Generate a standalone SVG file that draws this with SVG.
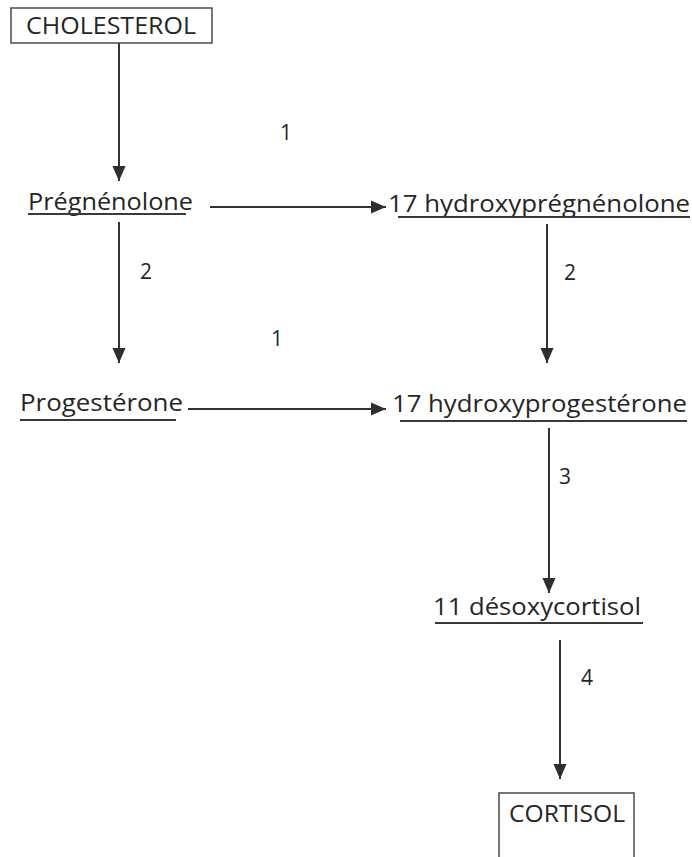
<svg xmlns="http://www.w3.org/2000/svg" width="692" height="857" viewBox="0 0 692 857">
<style>
.t{font-family:"Open Sans","Liberation Sans",sans-serif;font-size:23px;fill:#262626}
.n{font-family:"Open Sans","Liberation Sans",sans-serif;font-size:21px;fill:#262626}
.box{fill:#fff;stroke:#4a4a4a;stroke-width:1.5}
.ul{stroke:#3a3a3a;stroke-width:1.8}
.c{stroke:#333;stroke-width:2;fill:none;marker-end:url(#ah)}
</style>
<defs>
<marker id="ah" markerWidth="15" markerHeight="18" refX="16" refY="7" orient="auto" markerUnits="userSpaceOnUse" viewBox="0 0 16 14">
<path d="M0,0 L16,7 L0,14 Z" fill="#2e2e2e"/>
</marker>
</defs>
<rect width="692" height="857" fill="#fff"/>
<g id="connectors">
<line class="c" x1="119" y1="43" x2="119" y2="181"/>
<line class="c" x1="210" y1="207" x2="386" y2="207"/>
<line class="c" x1="119" y1="222" x2="119" y2="363"/>
<line class="c" x1="547" y1="224" x2="547" y2="363"/>
<line class="c" x1="188" y1="409" x2="386" y2="409"/>
<line class="c" x1="549" y1="428" x2="549" y2="593"/>
<line class="c" x1="560" y1="640" x2="560" y2="779"/>
<text class="n" x="280" y="140">1</text>
<text class="n" x="140" y="279">2</text>
<text class="n" x="564" y="280">2</text>
<text class="n" x="271" y="346">1</text>
<text class="n" x="559" y="484">3</text>
<text class="n" x="581" y="685">4</text>
</g>
<g id="cholesterol">
<rect class="box" x="11" y="8" width="201" height="35"/>
<text class="t" x="26" y="34" textLength="170" lengthAdjust="spacingAndGlyphs">CHOLESTEROL</text>
</g>
<g id="pregnenolone">
<text class="t" x="28" y="210" textLength="165" lengthAdjust="spacingAndGlyphs">Prégnénolone</text>
<line class="ul" x1="28" y1="214" x2="186" y2="214"/>
</g>
<g id="hydroxypregnenolone">
<text class="t" x="388" y="212" textLength="302" lengthAdjust="spacingAndGlyphs">17 hydroxyprégnénolone</text>
<line class="ul" x1="398" y1="217" x2="690" y2="217"/>
</g>
<g id="progesterone">
<text class="t" x="20" y="411" textLength="163" lengthAdjust="spacingAndGlyphs">Progestérone</text>
<line class="ul" x1="20" y1="420" x2="176" y2="420"/>
</g>
<g id="hydroxyprogesterone">
<text class="t" x="392" y="412" textLength="295" lengthAdjust="spacingAndGlyphs">17 hydroxyprogestérone</text>
<line class="ul" x1="400" y1="421" x2="687" y2="421"/>
</g>
<g id="desoxycortisol">
<text class="t" x="433" y="615" textLength="208" lengthAdjust="spacingAndGlyphs">11 désoxycortisol</text>
<line class="ul" x1="435" y1="623" x2="643" y2="623"/>
</g>
<g id="cortisol">
<rect class="box" x="499" y="793" width="135" height="70"/>
<text class="t" x="509" y="822" textLength="116" lengthAdjust="spacingAndGlyphs">CORTISOL</text>
</g>
</svg>
